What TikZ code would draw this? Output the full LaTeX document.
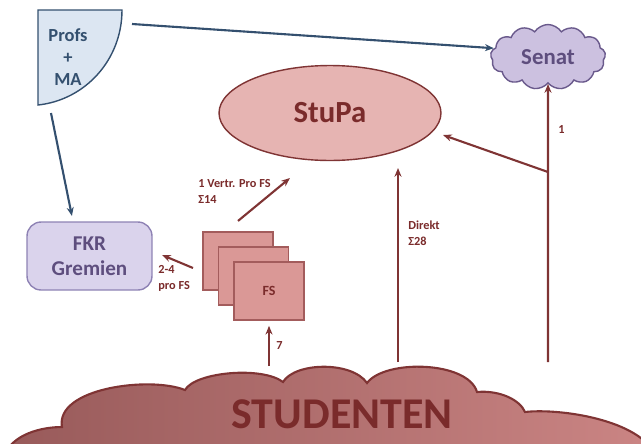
\documentclass[tikz,border=0pt]{standalone}
\usepackage{fontspec}
\setmainfont{Carlito}
\usetikzlibrary{arrows.meta, shapes.geometric, shapes.symbols}
\definecolor{blueline}{HTML}{34506F}
\definecolor{bluefill}{HTML}{DCE6F2}
\definecolor{lilafill}{HTML}{CCC1E0}
\definecolor{lilaline}{HTML}{6A5A8C}
\definecolor{lilatext}{HTML}{5E4E7E}
\definecolor{fkrfill}{HTML}{DAD3EC}
\definecolor{fkrline}{HTML}{8E82B4}
\definecolor{redline}{HTML}{7F3434}
\definecolor{redtext}{HTML}{7A2B2B}
\definecolor{stupafill}{HTML}{E6B4B2}
\definecolor{fsfill}{HTML}{DA9896}
\definecolor{fsline}{HTML}{A35C5C}
\definecolor{studL}{HTML}{985A5A}
\definecolor{studR}{HTML}{CB8584}
\tikzset{
  bluearrow/.style={draw=blueline, line width=1.2pt, -{Stealth[length=5pt,width=4pt]}},
  redarrow/.style={draw=redline, line width=1.2pt, -{Stealth[length=5pt,width=4pt]}},
  fsbox/.style={draw=fsline, fill=fsfill, line width=0.6pt, minimum width=1.4cm, minimum height=1.16cm, inner sep=0pt},
  smalllabel/.style={font=\fontsize{7}{8}\selectfont\bfseries, text=redtext, align=left, anchor=north west, inner sep=0pt}
}
\begin{document}
\begin{tikzpicture}[x=0.02cm, y=-0.02cm]
  \useasboundingbox (0,0) rectangle (641,443);
  \clip (0,0) rectangle (641,443);
  % Profs + MA
  \draw[draw=blueline, fill=bluefill, line width=0.8pt] (38,10) -- (122,10) .. controls (122,60) and (85,100) .. (38,105) -- cycle;
  \node[font=\fontsize{10.5}{12.5}\selectfont\bfseries, text=blueline, align=center] (profs) at (68,57) {Profs\\+\\MA};
  \coordinate (profsR) at (132,24);
  \coordinate (profsB) at (51,113);
  % Senat
  \node[cloud, cloud puffs=13, cloud puff arc=115, aspect=1.8, draw=lilaline, fill=lilafill, line width=0.8pt,
        minimum width=2.3cm, minimum height=1.3cm, inner sep=0pt, font=\fontsize{13}{14}\selectfont\bfseries, text=lilatext] (senat) at (548,57) {Senat};
  % StuPa
  \node[ellipse, draw=redline, fill=stupafill, line width=0.8pt, minimum width=4.44cm, minimum height=1.9cm,
        inner sep=0pt, font=\fontsize{17.5}{18}\selectfont\bfseries, text=redtext] (stupa) at (330,113) {StuPa};
  % FKR Gremien
  \node[draw=fkrline, fill=fkrfill, rounded corners=8pt, line width=0.8pt, minimum width=2.5cm, minimum height=1.36cm,
        align=center, font=\fontsize{12}{14}\selectfont\bfseries, text=lilatext] (fkr) at (89.5,256) {FKR\\Gremien};
  % FS
  \node[fsbox] (fs1) at (238,261) {};
  \node[fsbox] (fs2) at (253.5,276) {};
  \node[fsbox, font=\fontsize{8}{9}\selectfont\bfseries, text=redtext] (fs3) at (269,291) {FS};
  % Studenten
  \draw[draw=redline, line width=1.2pt, left color=studL, right color=studR]
    (5,455) .. controls (12,435) and (40,427) .. (62,427)
    .. controls (55,388) and (150,376) .. (185,390)
    .. controls (195,372) and (262,366) .. (283,382)
    .. controls (295,362) and (352,361) .. (367,383)
    .. controls (385,359) and (468,361) .. (477,392)
    .. controls (500,390) and (520,400) .. (525,412)
    .. controls (560,408) and (640,420) .. (655,455)
    -- (655,470) -- (5,470) -- cycle;
  \node[font=\fontsize{25}{26}\selectfont\bfseries, text=redtext] (studenten) at (342,414) {STUDENTEN};
  \coordinate (stud1) at (269,366);
  \coordinate (stud2) at (398,362);
  \coordinate (stud3) at (548,362);
  \coordinate (split) at (548,172);
  % connectors
  \draw[bluearrow] (profsR) -- ([xshift=2pt,yshift=5pt]senat.west);
  \draw[bluearrow] (profsB) -- ([xshift=-10pt,yshift=3pt]fkr.north);
  \draw[redarrow] (stud1) -- ([yshift=-3pt]fs3.south);
  \draw[redarrow] ([yshift=6pt]fs1.north) -- (290,178);
  \draw[redarrow] (193,268) -- (162,255);
  \draw[redarrow] (stud2) -- (398,168);
  \draw[redarrow] (stud3) -- (senat.south);
  \draw[redarrow] (split) -- (443,135);
  % labels
  \node[smalllabel] (vertr) at (198,179) {1 Vertr. Pro FS\\[1pt]Σ14};
  \node[smalllabel] (profs2) at (158,265) {2-4\\[1pt]pro FS};
  \node[smalllabel] (sieben) at (276,341) {7};
  \node[smalllabel] (direkt) at (408,221) {Direkt\\[1pt]Σ28};
  \node[smalllabel] (eins) at (558,125) {1};
\end{tikzpicture}
\end{document}
